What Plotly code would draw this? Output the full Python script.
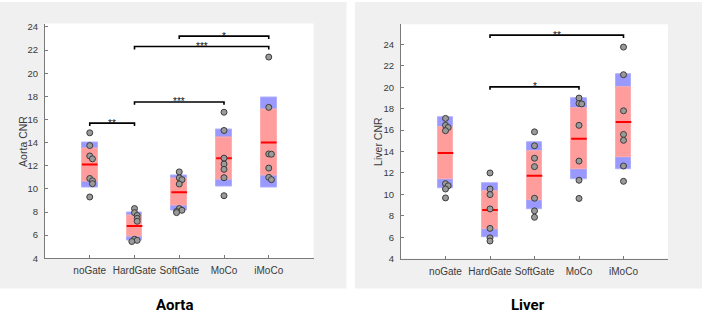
import plotly.graph_objects as go

groups = ["noGate", "HardGate", "SoftGate", "MoCo", "iMoCo"]

# ---------------- Aorta ----------------
aorta_points = [
    [14.85, 13.75, 12.85, 12.6, 10.9, 10.7, 10.45, 9.3],
    [8.3, 7.95, 7.7, 7.45, 7.2, 5.65, 5.55, 5.45],
    [11.47, 10.95, 10.8, 10.42, 8.3, 8.15, 8.05, 7.95],
    [16.63, 15.05, 12.66, 12.15, 11.69, 10.97, 9.41],
    [21.4, 17.05, 13.02, 13.0, 11.8, 11.0, 10.8],
]
aorta_mean = [12.1, 6.8, 9.7, 12.66, 14.02]
aorta_sd_lo = [10.15, 5.55, 8.15, 10.2, 10.14]
aorta_sd_hi = [14.02, 8.0, 11.19, 15.13, 17.9]
aorta_ci_lo = [10.62, 5.9, 8.57, 10.82, 11.13]
aorta_ci_hi = [13.5, 7.74, 10.86, 14.48, 16.87]
aorta_pairs = [(0, 1), (1, 3), (1, 4), (2, 4)]
aorta_sig_y = [15.69, 17.52, 22.31, 23.21]
aorta_sig_lbl = ["**", "***", "***", "*"]

# ---------------- Liver ----------------
liver_points = [
    [17.1, 16.45, 16.25, 15.95, 11.0, 10.8, 10.5, 9.67],
    [12.0, 10.5, 9.98, 8.64, 6.82, 5.94, 5.64],
    [15.84, 14.54, 13.38, 12.59, 9.64, 8.46, 7.86],
    [19.0, 18.5, 18.45, 16.45, 13.11, 11.32, 9.62],
    [23.76, 21.18, 17.81, 15.6, 15.05, 12.65, 11.22],
]
liver_mean = [13.86, 8.55, 11.75, 15.2, 16.75]
liver_sd_lo = [10.53, 5.97, 8.64, 11.38, 12.32]
liver_sd_hi = [17.17, 11.0, 14.84, 18.99, 21.24]
liver_ci_lo = [11.38, 6.7, 9.43, 12.32, 13.5]
liver_ci_hi = [16.29, 10.3, 14.02, 18.05, 20.06]
liver_pairs = [(1, 3), (1, 4)]
liver_sig_y = [20.04, 24.88]
liver_sig_lbl = ["*", "**"]

W, H = 704, 321
BOX_W = 0.35
BLUE = "rgb(153,153,255)"
RED = "rgb(255,156,156)"
FONT = "Liberation Sans"
TXT = "#3a3a3a"

fig = go.Figure()


def add_panel(xa, ya, pts, mean, sdlo, sdhi, cilo, cihi, pairs, sigy, siglbl, drop):
    xs = [i + 1 for i in range(len(groups))]
    fig.add_trace(go.Bar(x=xs, base=sdlo, y=[h - l for h, l in zip(sdhi, sdlo)],
                         width=BOX_W, marker=dict(color=BLUE, line=dict(color="rgb(175,175,255)", width=1)),
                         xaxis=xa, yaxis=ya, showlegend=False, hoverinfo="skip"))
    fig.add_trace(go.Bar(x=xs, base=cilo, y=[h - l for h, l in zip(cihi, cilo)],
                         width=BOX_W, marker=dict(color=RED, line=dict(color="rgb(255,175,175)", width=1)),
                         xaxis=xa, yaxis=ya, showlegend=False, hoverinfo="skip"))
    mx, my = [], []
    for x, m in zip(xs, mean):
        mx += [x - BOX_W / 2, x + BOX_W / 2, None]
        my += [m, m, None]
    fig.add_trace(go.Scatter(x=mx, y=my, mode="lines", line=dict(color="red", width=2),
                             xaxis=xa, yaxis=ya, showlegend=False, hoverinfo="skip"))
    px, py = [], []
    offs = [0.0, 0.06, -0.06, 0.03]
    for x, vals in zip(xs, pts):
        placed = []
        for v in vals:
            near = sum(1 for p in placed if abs(p - v) < 0.3)
            placed.append(v)
            px.append(x + offs[near % len(offs)])
            py.append(v)
    fig.add_trace(go.Scatter(x=px, y=py, mode="markers",
                             marker=dict(size=6, color="#9a9a9a", line=dict(color="#3c3c3c", width=1)),
                             xaxis=xa, yaxis=ya, showlegend=False, hoverinfo="skip"))
    bx, by = [], []
    for (a, b), h in zip(pairs, sigy):
        bx += [a + 1, a + 1, b + 1, b + 1, None]
        by += [h - drop, h, h, h - drop, None]
    fig.add_trace(go.Scatter(x=bx, y=by, mode="lines", line=dict(color="black", width=1.6),
                             xaxis=xa, yaxis=ya, showlegend=False, hoverinfo="skip"))
    for (a, b), h, t in zip(pairs, sigy, siglbl):
        fig.add_annotation(x=(a + b) / 2 + 1, y=h, xref=xa, yref=ya, text=t, showarrow=False,
                           xanchor="center", yanchor="middle", yshift=0,
                           font=dict(family=FONT, size=10, color="#111111"))


add_panel("x", "y", aorta_points, aorta_mean, aorta_sd_lo, aorta_sd_hi, aorta_ci_lo, aorta_ci_hi,
          aorta_pairs, aorta_sig_y, aorta_sig_lbl, 0.25)
add_panel("x2", "y2", liver_points, liver_mean, liver_sd_lo, liver_sd_hi, liver_ci_lo, liver_ci_hi,
          liver_pairs, liver_sig_y, liver_sig_lbl, 0.27)


def px_x(p):
    return p / W


def px_y(p):
    return 1 - p / H


axis_common = dict(showline=True, linecolor="#7a7a7a", linewidth=1, ticks="inside", ticklen=3,
                   tickcolor="#7a7a7a", showgrid=False, zeroline=False)
xfont = dict(family=FONT, size=10, color=TXT)
yfont = dict(family=FONT, size=9.5, color=TXT)

fig.update_layout(
    width=W, height=H, margin=dict(l=0, r=0, t=0, b=0),
    paper_bgcolor="white", plot_bgcolor="white", barmode="overlay", bargap=0,
    xaxis=dict(domain=[px_x(45), px_x(313.5)], range=[0, 6], tickvals=[1, 2, 3, 4, 5], ticktext=groups,
               anchor="y", ticklabelstandoff=3, tickfont=xfont, **axis_common),
    yaxis=dict(domain=[px_y(262), px_y(22)], range=[4, 24.3], tickvals=list(range(4, 25, 2)),
               anchor="x", ticklabelstandoff=4, tickfont=yfont, **axis_common),
    xaxis2=dict(domain=[px_x(401), px_x(668)], range=[0, 6], tickvals=[1, 2, 3, 4, 5], ticktext=groups,
                anchor="y2", ticklabelstandoff=3, tickfont=xfont, **axis_common),
    yaxis2=dict(domain=[px_y(262.3), px_y(22.7)], range=[4, 25.9], tickvals=list(range(4, 25, 2)),
                anchor="x2", ticklabelstandoff=4, tickfont=yfont, **axis_common),
    shapes=[
        dict(type="rect", xref="paper", yref="paper", x0=0, x1=px_x(346.5), y0=px_y(293), y1=1,
             fillcolor="#f0f0f0", line=dict(width=0), layer="below"),
        dict(type="rect", xref="paper", yref="paper", x0=px_x(355), x1=px_x(702), y0=px_y(293), y1=1,
             fillcolor="#f0f0f0", line=dict(width=0), layer="below"),
        dict(type="rect", xref="paper", yref="paper", x0=px_x(45), x1=px_x(313.5), y0=px_y(262), y1=px_y(22),
             fillcolor="white", line=dict(width=0), layer="below"),
        dict(type="rect", xref="paper", yref="paper", x0=px_x(401), x1=px_x(668), y0=px_y(262.3),
             y1=px_y(22.7), fillcolor="white", line=dict(width=0), layer="below"),
    ],
)

for xp, t in [(23, "Aorta CNR"), (378, "Liver CNR")]:
    fig.add_annotation(x=px_x(xp), y=px_y(143), xref="paper", yref="paper", text=t, textangle=-90,
                       xanchor="center", yanchor="middle", showarrow=False,
                       font=dict(family=FONT, size=10.5, color=TXT))
for xp, t in [(174, "Aorta"), (528, "Liver")]:
    fig.add_annotation(x=px_x(xp), y=px_y(310), xref="paper", yref="paper", text="<b>" + t + "</b>",
                       xanchor="center", yanchor="middle", showarrow=False,
                       font=dict(family="Roboto", size=15, color="black"))

fig.write_html("out.html", config={"displayModeBar": False},
               post_script="document.body.style.margin='0';document.body.style.padding='0';")
